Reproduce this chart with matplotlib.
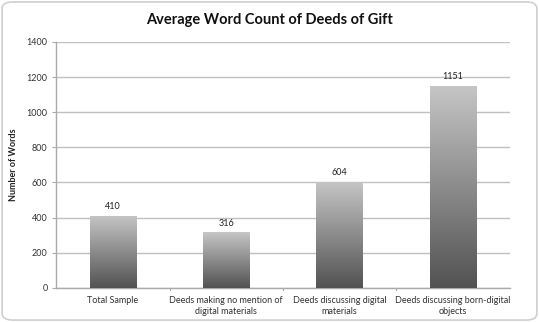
import matplotlib
matplotlib.use("Agg")
import matplotlib.pyplot as plt
import numpy as np
from matplotlib.patches import FancyBboxPatch
from matplotlib.colors import LinearSegmentedColormap

categories = ["Total Sample", "Deeds making no mention of\ndigital materials",
              "Deeds discussing digital\nmaterials", "Deeds discussing born-digital\nobjects"]
values = [410, 316, 604, 1151]
yticks = [0, 200, 400, 600, 800, 1000, 1200, 1400]

plt.rcParams['font.family'] = ['Lato', 'DejaVu Sans']

fig = plt.figure(figsize=(5.39, 3.22), dpi=100)
fig.patch.set_facecolor('white')
ax = fig.add_axes([0.104, 0.106, 0.842, 0.764])

x = np.arange(len(categories))
bars = ax.bar(x, values, width=0.41, color='none', edgecolor='none', zorder=3)

grad = np.linspace(0, 1, 256).reshape(-1, 1)
cmap = LinearSegmentedColormap.from_list('g', ['#525252', '#c6c6c6'])
for b in bars:
    x0, y0 = b.get_x(), b.get_y()
    w, h = b.get_width(), b.get_height()
    im = ax.imshow(grad, extent=[x0, x0 + w, y0, y0 + h], origin='lower',
                   cmap=cmap, aspect='auto', zorder=3)
    im.set_clip_path(b)
    ax.text(x0 + w / 2, h + 25, str(int(h)), ha='center', va='bottom',
            fontsize=6.5, color='#222222')

ax.set_xlim(-0.5, len(categories) - 0.5)
ax.set_ylim(0, 1400)
ax.set_yticks(yticks)
ax.set_yticklabels([str(t) for t in yticks], fontsize=6.5, color='#333333')
ax.set_xticks(x)
ax.set_xticklabels(categories, fontsize=6.5, color='#333333')
ax.tick_params(axis='x', length=0, pad=6)
ax.tick_params(axis='y', length=3, color='#aaaaaa', pad=3)
for b in np.arange(0.5, len(categories) - 0.5, 1.0):
    ax.plot([b, b], [0, -12], color='#aaaaaa', lw=0.8, clip_on=False, zorder=2)

ax.grid(axis='y', color='#c0c0c0', lw=1.0, zorder=0)
ax.set_axisbelow(True)
for s in ['top', 'right']:
    ax.spines[s].set_visible(False)
ax.spines['left'].set_color('#aaaaaa')
ax.spines['bottom'].set_color('#aaaaaa')
ax.spines['left'].set_linewidth(1.0)
ax.spines['bottom'].set_linewidth(1.0)

ax.set_ylabel('Number of Words', fontsize=6.5, fontweight='bold', color='#222222', labelpad=6)
fig.text(0.5, 0.937, 'Average Word Count of Deeds of Gift', ha='center', va='center',
         fontsize=10.5, fontweight='bold', color='#111111')

frame = FancyBboxPatch((0.004, 0.006), 0.992, 0.988, boxstyle='round,pad=0,rounding_size=0.02',
                       transform=fig.transFigure, fill=False, edgecolor='#cfcfcf', lw=1.2)
fig.patches.append(frame)

fig.savefig('out.png', dpi=100)
